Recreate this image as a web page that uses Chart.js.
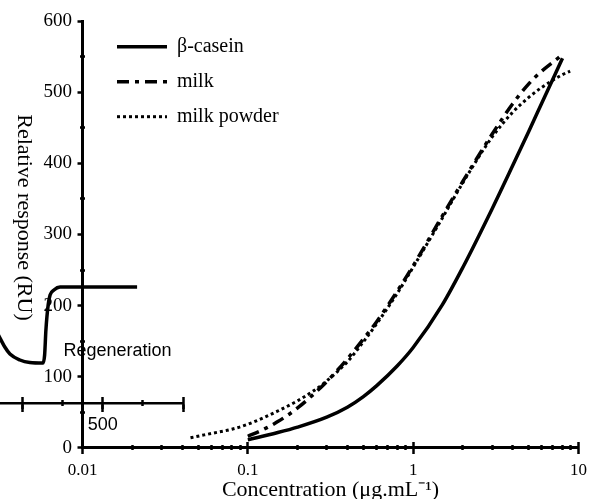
<!DOCTYPE html>
<html><head><meta charset="utf-8">
<script src="https://cdn.jsdelivr.net/npm/chart.js@4"></script>
<style>
html,body{margin:0;padding:0;background:#fff;}
#wrap{position:relative;width:594px;height:499px;overflow:hidden;}
#main{position:absolute;left:0;top:0;}
#inset{position:absolute;left:0;top:260px;pointer-events:none;}
</style></head><body>
<div id="wrap">
<canvas id="main" width="594" height="499"></canvas>
<canvas id="inset" width="200" height="180"></canvas>
</div>
<script>
// ---- main chart data ----
const seriesNames = ['β-casein', 'milk', 'milk powder'];
const concCasein = [0.1, 0.15, 0.2, 0.3, 0.4, 0.5, 0.6, 0.8, 1, 1.5, 2, 3, 4, 5, 6, 8];
const respCasein = [11, 21, 29, 43, 57, 72, 87, 115, 141, 201, 254, 336, 397, 445, 485, 548];
const concMilk = [0.1, 0.12, 0.15, 0.2, 0.3, 0.4, 0.5, 0.6, 0.8, 1, 1.5, 2, 3, 4, 5, 6, 7.7];
const respMilk = [16, 24, 36, 56, 93, 125, 153, 177, 220, 256, 326, 375, 441, 484, 512, 530, 550];
const concPowder = [0.045, 0.06, 0.08, 0.1, 0.15, 0.2, 0.25, 0.3, 0.4, 0.5, 0.6, 0.8, 1, 1.5, 2, 3, 4, 5, 6, 8, 8.9];
const respPowder = [14, 20, 26, 33, 51, 66, 80, 94, 121, 149, 174, 217, 254, 323, 373, 437, 472, 493, 507, 525, 530];
const xMajorTicks = [0.01, 0.1, 1, 10];
const xTickLabels = ['0.01', '0.1', '1', '10'];
const yMajorTicks = [0, 100, 200, 300, 400, 500, 600];
const yTickLabels = ['0', '100', '200', '300', '400', '500', '600'];
const yMinorTicks = [50, 150, 250, 350, 450, 550];
const xTitle = 'Concentration (μg.mL⁻¹)';
const yTitle = 'Relative response (RU)';

// ---- inset (sensorgram fragment) data ----
const insetTime = [175, 195, 211, 242, 273, 314, 319, 323, 330, 336, 348, 367, 607];
const insetResponse = [68, 56, 49, 43, 40.5, 40, 48, 73, 98, 108, 113, 116, 116];
const insetMajorTicks = [250, 500, 750];
const insetMinorTicks = [375, 625];
const insetLabelValues = [500];
const insetLabelTexts = ['500'];
const insetNote = 'Regeneration';
const insetNoteTime = 546;
const insetNoteResponse = 52;

// ---- helpers ----
const toPts = (xs, ys) => xs.map((x, i) => ({x: x, y: ys[i]}));
const setTicks = vals => scale => { scale.ticks = vals.map(v => ({value: v})); };
const xMinorTicks = [];
xMajorTicks.slice(0, -1).forEach(m => { for (let k = 2; k <= 9; k++) xMinorTicks.push(m * k); });
const xAllTicks = xMajorTicks.concat(xMinorTicks).sort((a, b) => a - b);
const CLEAR = 'rgba(0,0,0,0)';
const serif = "'Liberation Serif', 'Times New Roman', serif";
const sans = "'Liberation Sans', Arial, sans-serif";

const lineBase = {
  borderColor: '#000', backgroundColor: '#000', borderWidth: 3.5,
  pointRadius: 0, pointHoverRadius: 0, fill: false,
  cubicInterpolationMode: 'monotone', borderCapStyle: 'butt', borderJoinStyle: 'round',
  xAxisID: 'x', yAxisID: 'y'
};

const placeLegend = {
  id: 'placeLegend',
  afterLayout(chart) {
    const lg = chart.legend;
    if (!lg) return;
    const w = lg.width, h = lg.height;
    lg.left = chart.chartArea.left + 19.5;
    lg.top = chart.chartArea.top + 0.4;
    lg.right = lg.left + w;
    lg.bottom = lg.top + h;
  }
};

const yTitlePlugin = {
  id: 'yTitleRot',
  afterDraw(chart) {
    const ctx = chart.ctx;
    ctx.save();
    ctx.translate(24, 217.5);
    ctx.rotate(Math.PI / 2);
    ctx.font = "22px " + serif;
    ctx.fillStyle = '#000';
    ctx.textAlign = 'center';
    ctx.textBaseline = 'middle';
    ctx.fillText(yTitle, 0, 0);
    ctx.restore();
  }
};

new Chart(document.getElementById('main'), {
  type: 'line',
  data: {
    datasets: [
      Object.assign({}, lineBase, {label: seriesNames[0], data: toPts(concCasein, respCasein), borderDash: []}),
      Object.assign({}, lineBase, {label: seriesNames[1], data: toPts(concMilk, respMilk), borderDash: [12, 6, 4, 6]}),
      Object.assign({}, lineBase, {label: seriesNames[2], data: toPts(concPowder, respPowder), borderDash: [3, 3], borderWidth: 3})
    ]
  },
  options: {
    responsive: false,
    animation: false,
    events: [],
    layout: {padding: {left: 0, right: 15.5, top: 21.3, bottom: 0}},
    plugins: {
      legend: {
        position: 'chartArea', align: 'start',
        labels: {
          usePointStyle: true, pointStyle: 'line', pointStyleWidth: 50, boxHeight: 20,
          padding: 15, color: '#000', font: {family: serif, size: 20},
          generateLabels: chart => Chart.defaults.plugins.legend.labels.generateLabels(chart).map(item => {
            const ds = chart.data.datasets[item.datasetIndex];
            item.lineDash = ds.borderDash || [];
            item.lineWidth = ds.borderWidth;
            item.strokeStyle = ds.borderColor;
            item.lineCap = 'butt';
            item.pointStyle = 'line';
            return item;
          })
        }
      },
      tooltip: {enabled: false}
    },
    scales: {
      x: {
        type: 'logarithmic', position: 'bottom', min: 0.01, max: 10,
        afterBuildTicks: setTicks(xAllTicks),
        afterFit: s => { s.height = 51.3; },
        border: {display: true, color: '#000', width: 3},
        grid: {display: true, drawOnChartArea: false, drawTicks: true, tickLength: 6, tickColor: CLEAR},
        ticks: {
          autoSkip: false, maxRotation: 0, padding: 7, color: '#000',
          font: {family: serif, size: 17},
          callback: v => { const i = xMajorTicks.findIndex(m => Math.abs(m - v) / m < 1e-9); return i >= 0 ? xTickLabels[i] : ''; }
        },
        title: {display: true, text: xTitle, color: '#000', font: {family: serif, size: 22, lineHeight: 1.2}, padding: {top: 0, bottom: -4}}
      },
      xu: {
        type: 'logarithmic', position: {y: 0}, min: 0.01, max: 10,
        afterBuildTicks: setTicks(xMajorTicks),
        ticks: {display: false},
        border: {display: true, width: 12, color: CLEAR},
        grid: {display: true, drawOnChartArea: false, drawTicks: true, tickLength: -12, tickWidth: 2.5, tickColor: '#000'}
      },
      xn: {
        type: 'logarithmic', position: {y: 0}, min: 0.01, max: 10,
        afterBuildTicks: setTicks(xMinorTicks),
        ticks: {display: false},
        border: {display: true, width: 5, color: CLEAR},
        grid: {display: true, drawOnChartArea: false, drawTicks: true, tickLength: -5, tickWidth: 2.5, tickColor: '#000'}
      },
      y: {
        type: 'linear', position: 'left', min: 0, max: 600,
        afterBuildTicks: setTicks(yMajorTicks),
        afterFit: s => { s.width = 82.5; },
        border: {display: true, color: '#000', width: 3},
        grid: {display: true, drawOnChartArea: false, drawTicks: true, tickLength: 5, tickWidth: 2.5, tickColor: '#000'},
        ticks: {
          padding: 5.5, color: '#000', font: {family: serif, size: 19},
          callback: v => { const i = yMajorTicks.indexOf(v); return i >= 0 ? yTickLabels[i] : ''; }
        }
      },
      ym: {
        type: 'linear', position: {x: 0.01}, min: 0, max: 600,
        afterBuildTicks: setTicks(yMinorTicks),
        ticks: {display: false},
        border: {display: true, width: 5, color: CLEAR},
        grid: {display: true, drawOnChartArea: false, drawTicks: true, tickLength: -5, tickWidth: 2.5, tickColor: '#000'}
      }
    }
  },
  plugins: [placeLegend, yTitlePlugin]
});

const notePlugin = {
  id: 'insetNote',
  afterDatasetsDraw(chart) {
    const ctx = chart.ctx, sx = chart.scales.x, sy = chart.scales.y;
    ctx.save();
    ctx.font = "18px " + sans;
    ctx.fillStyle = '#000';
    ctx.textAlign = 'center';
    ctx.textBaseline = 'middle';
    ctx.fillText(insetNote, sx.getPixelForValue(insetNoteTime), sy.getPixelForValue(insetNoteResponse));
    ctx.restore();
  }
};

new Chart(document.getElementById('inset'), {
  type: 'line',
  data: {
    datasets: [{
      label: 'sensorgram', data: toPts(insetTime, insetResponse),
      borderColor: '#000', borderWidth: 3.5, pointRadius: 0, pointHoverRadius: 0, fill: false,
      cubicInterpolationMode: 'monotone', borderJoinStyle: 'round', xAxisID: 'x', yAxisID: 'y'
    }]
  },
  options: {
    responsive: false,
    animation: false,
    events: [],
    layout: {padding: {left: 0, right: 17, top: 0, bottom: 0}},
    plugins: {legend: {display: false}, tooltip: {enabled: false}},
    scales: {
      x: {
        type: 'linear', position: 'bottom', min: 180, max: 750,
        afterBuildTicks: setTicks(insetMajorTicks),
        afterFit: s => { s.height = 37; },
        border: {display: true, color: '#000', width: 2.5},
        grid: {display: true, drawOnChartArea: false, drawTicks: true, tickLength: 9, tickWidth: 2.5, tickColor: '#000'},
        ticks: {
          autoSkip: false, maxRotation: 0, padding: 2, color: '#000', font: {family: sans, size: 18},
          callback: v => { const i = insetLabelValues.indexOf(v); return i >= 0 ? insetLabelTexts[i] : ''; }
        }
      },
      xu: {
        type: 'linear', position: {y: 0}, min: 180, max: 750,
        afterBuildTicks: setTicks(insetMajorTicks),
        ticks: {display: false},
        border: {display: true, width: 12, color: CLEAR},
        grid: {display: true, drawOnChartArea: false, drawTicks: true, tickLength: -12, tickWidth: 2.5, tickColor: '#000'}
      },
      xn: {
        type: 'linear', position: {y: 0}, min: 180, max: 750,
        afterBuildTicks: setTicks(insetMinorTicks),
        ticks: {display: false},
        border: {display: true, width: 6, color: CLEAR},
        grid: {display: true, drawOnChartArea: false, drawTicks: true, tickLength: -6, tickWidth: 2.5, tickColor: '#000'}
      },
      y: {type: 'linear', display: false, min: 0, max: 143}
    }
  },
  plugins: [notePlugin]
});
</script>
</body></html>
